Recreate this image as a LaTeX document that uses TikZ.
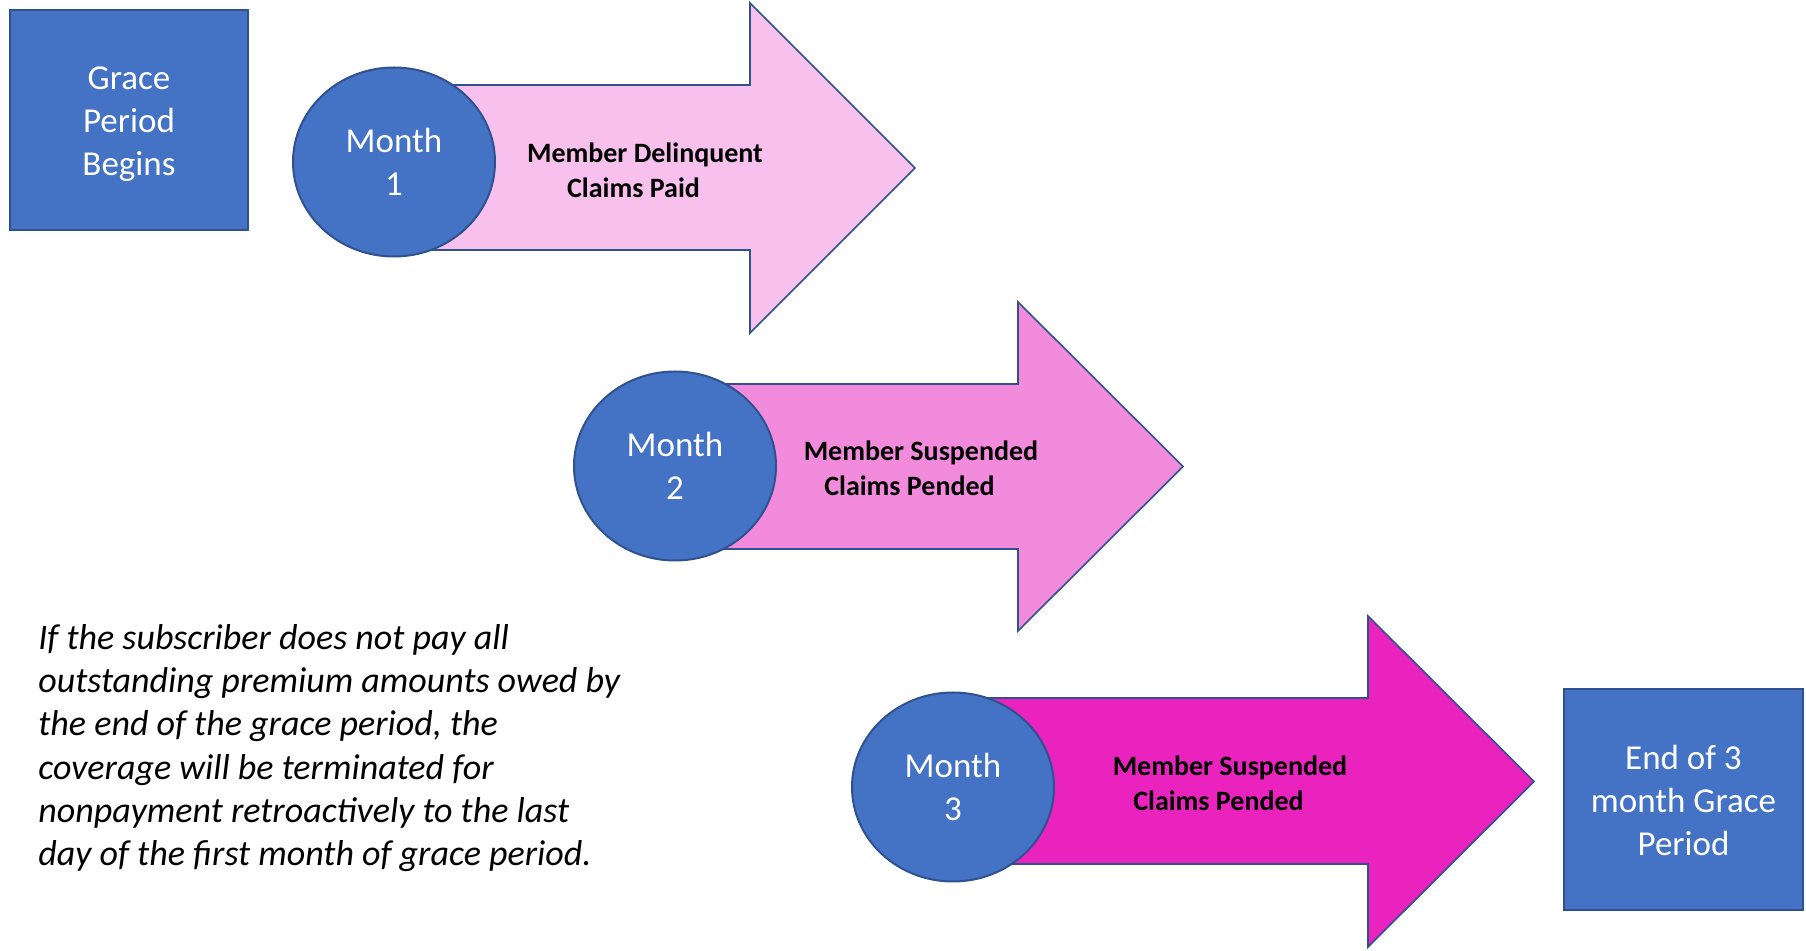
\documentclass[tikz,border=0pt]{standalone}
\usepackage{fontspec}
\setmainfont{Carlito}
\usetikzlibrary{shapes.geometric}
\definecolor{boxblue}{HTML}{4472C4}
\definecolor{edgeblue}{HTML}{2F528F}
\definecolor{pinkA}{HTML}{F8C0EC}
\definecolor{pinkB}{HTML}{F38BDC}
\definecolor{pinkC}{HTML}{EA22BE}
\tikzset{
  bluebox/.style={draw=edgeblue, line width=1.2pt, fill=boxblue, inner sep=0pt},
  whitetext/.style={text=white, align=center, font=\fontsize{17.5}{21.5}\selectfont, inner sep=0pt},
  monthell/.style={ellipse, draw=edgeblue, line width=1pt, fill=boxblue, text=white, align=center,
    font=\fontsize{17.5}{21.5}\selectfont, minimum width=101pt, minimum height=94.5pt, inner sep=0pt},
  bigarrow/.style={draw=edgeblue, line width=0.8pt, line join=miter},
  arrowtext/.style={align=center, font=\bfseries\fontsize{14}{17.5}\selectfont, inner sep=0pt},
  note/.style={align=left, font=\itshape\fontsize{18}{21.65}\selectfont, inner sep=0pt}
}
\begin{document}
\begin{tikzpicture}[x=0.5pt,y=-0.5pt]
\useasboundingbox (0,0) rectangle (1806,951);
% start box
\node[bluebox, minimum width=119pt, minimum height=110pt] (start) at (129,120) {};
\node[whitetext] (startlbl) at (129,124.5) {Grace\\Period\\Begins};
% arrow 1
\coordinate (c1) at (394,162);
\fill[pinkA] (394,85) -- (750,85) -- (750,3) -- (915,168) -- (750,333) -- (750,250) -- (394,250) -- cycle;
\draw[bigarrow] (394,85) -- (750,85) -- (750,3) -- (915,168) -- (750,333) -- (750,250) -- (394,250);
\node[monthell] (m1) at (c1) {Month\\1};
\node[arrowtext] (t1) at (645,170) {Member Delinquent\\Claims Paid\hspace*{11.5pt}};
% arrow 2
\coordinate (c2) at (675,466);
\fill[pinkB] (675,384) -- (1018,384) -- (1018,302) -- (1183,466.5) -- (1018,631) -- (1018,549) -- (675,549) -- cycle;
\draw[bigarrow] (675,384) -- (1018,384) -- (1018,302) -- (1183,466.5) -- (1018,631) -- (1018,549) -- (675,549);
\node[monthell] (m2) at (c2) {Month\\2};
\node[arrowtext] (t2) at (921,468) {Member Suspended\\Claims Pended\hspace*{11.5pt}};
% arrow 3
\coordinate (c3) at (953,787);
\fill[pinkC] (953,698) -- (1368,698) -- (1368,616) -- (1534,781.5) -- (1368,947) -- (1368,864) -- (953,864) -- cycle;
\draw[bigarrow] (953,698) -- (1368,698) -- (1368,616) -- (1534,781.5) -- (1368,947) -- (1368,864) -- (953,864);
\node[monthell] (m3) at (c3) {Month\\3};
\node[arrowtext] (t3) at (1230,783) {Member Suspended\\Claims Pended\hspace*{11.5pt}};
% end box
\node[bluebox, minimum width=119.5pt, minimum height=110.5pt] (end) at (1683.5,799.5) {};
\node[whitetext] (endlbl) at (1683.5,800.5) {End of 3\\month Grace\\Period};
% note
\node[note, anchor=west] (note) at (38,748) {If the subscriber does not pay all\\outstanding premium amounts owed by\\the end of the grace period, the\\coverage will be terminated for\\nonpayment retroactively to the last\\day of the first month of grace period.};
\end{tikzpicture}
\end{document}
